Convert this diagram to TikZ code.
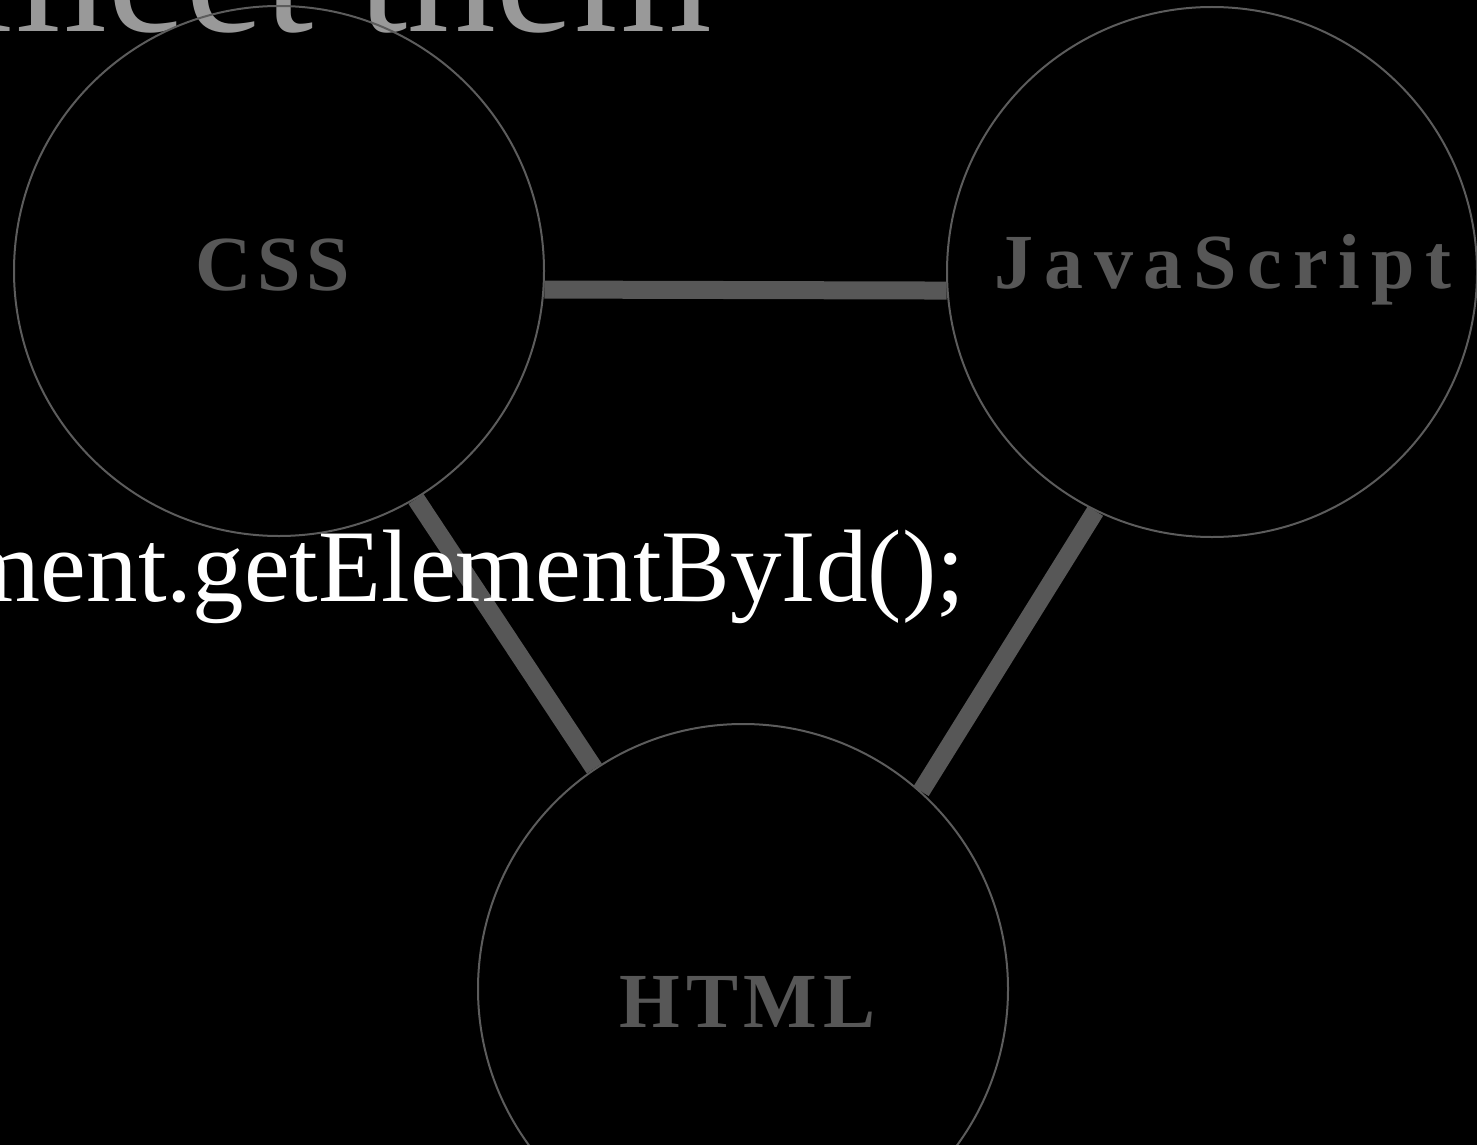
\documentclass[tikz,border=0pt]{standalone}
\usepackage{fontspec}
\setmainfont{Liberation Serif}
\definecolor{linegray}{HTML}{575757}
\definecolor{ringgray}{HTML}{5C5C5C}
\definecolor{titlegray}{HTML}{999999}
\begin{document}
\begin{tikzpicture}[x=1pt,y=-1pt,
  ring/.style={circle, draw=ringgray, line width=2pt, minimum size=530pt, inner sep=0pt},
  link/.style={draw=linegray, line width=18pt},
  lbl/.style={text=linegray, font=\fontsize{78}{78}\selectfont\bfseries, inner sep=0pt, anchor=base},
  titletext/.style={text=titlegray, font=\fontsize{177}{177}\selectfont, inner sep=0pt, anchor=base east},
  codetext/.style={text=white, font=\fontsize{103}{103}\selectfont, inner sep=0pt, anchor=base east}]
\fill[black] (0,0) rectangle (1477,1145);
\useasboundingbox (0,0) rectangle (1477,1145);
\clip (0,0) rectangle (1477,1145);
\node[titletext] (ttl) at (712,32) {meet them};
\node[ring] (css) at (279,271) {};
\node[ring] (js) at (1212,272) {};
\node[ring] (html) at (743,989) {};
\draw[link] (css.-4.5) -- (js.184.3);
\draw[link] (css.-59.5) -- (html.124.5);
\draw[link] (js.244) -- (html.48.2);
\node[lbl] (csslbl) at (272.5,290) {C\kern5.5pt S\kern5.5pt S};
\node[lbl] (jslbl) at (1223,288) {J\kern10.8pt a\kern10.8pt v\kern10.8pt a\kern10.8pt S\kern10.8pt c\kern10.8pt r\kern10.8pt i\kern10.8pt p\kern10.8pt t};
\node[lbl] (htmllbl) at (747.5,1027) {H\kern5.7pt T\kern5.7pt M\kern5.7pt L};
\node[codetext] (code) at (965,601) {ment.getElementById();};
\end{tikzpicture}
\end{document}
